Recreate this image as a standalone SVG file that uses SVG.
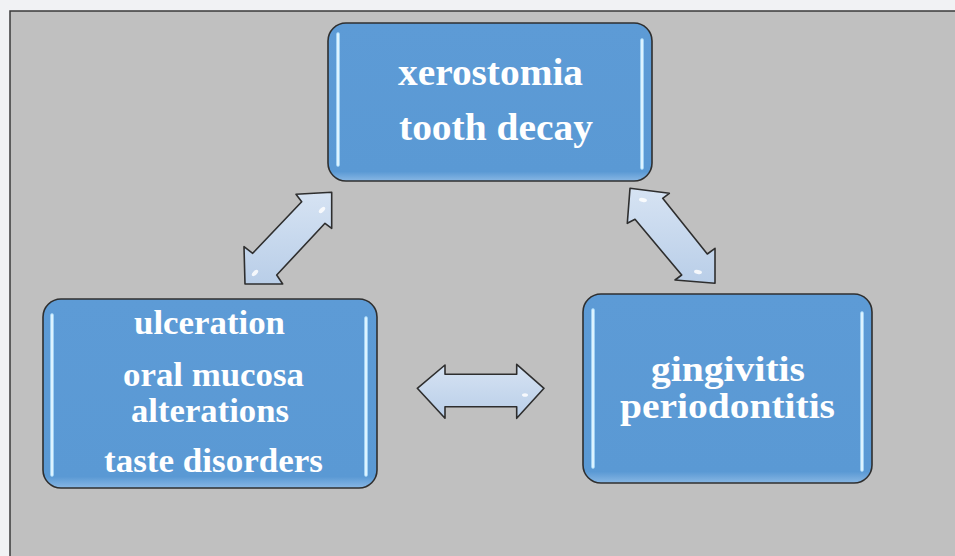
<svg xmlns="http://www.w3.org/2000/svg" width="955" height="556" viewBox="0 0 955 556">
<defs>
<linearGradient id="boxFill" x1="0" y1="0" x2="0" y2="1">
<stop offset="0" stop-color="#5d9bd6"/>
<stop offset="0.94" stop-color="#5a99d4"/>
<stop offset="1" stop-color="#88b7e4"/>
</linearGradient>
<linearGradient id="arrowFill" x1="0" y1="0" x2="0" y2="1">
<stop offset="0" stop-color="#d6e3f3"/>
<stop offset="1" stop-color="#b9cee8"/>
</linearGradient>
<style>
.box{fill:url(#boxFill);stroke:#2f2f2f;stroke-width:1.6}
.hl{stroke:#bfe8ff;stroke-width:3.4;stroke-linecap:round;fill:none}
.hlc{stroke:#ffffff;stroke-width:1.2;stroke-linecap:round;fill:none;opacity:0.8}
.arrow{fill:url(#arrowFill);stroke:#2e2e2e;stroke-width:1.6;stroke-linejoin:round}
.gloss{fill:#ffffff;opacity:0.85}
.t{font-family:"Liberation Serif","Times New Roman",serif;font-weight:bold;fill:#ffffff}
</style>
</defs>
<rect x="0" y="0" width="955" height="556" fill="#f1f2f4"/>
<rect x="10" y="11" width="960" height="560" fill="#c0c0c0" stroke="#3a3a3a" stroke-width="1.5"/>

<g id="connectors">
<polygon class="arrow" points="331.7,192.3 296,194.3 301.7,201.7 252.7,253.3 244,246.7 245,284 282.7,284 276.7,275 325,223.3 331.7,228.3"/>
<polygon class="arrow" points="630,188.3 669.3,193.3 662.7,198.3 707.3,254 715,248.3 715,283.3 675,280 681.7,275 635,219.3 627.3,223.3"/>
<polygon class="arrow" points="417.3,388.3 445,365 445,374.3 516.7,374.3 516.7,364.3 544,388.3 516.7,418.3 516.7,406.7 445,406.7 445,418.3"/>
<ellipse class="gloss" cx="322" cy="210" rx="2" ry="4" transform="rotate(45 322 210)"/>
<ellipse class="gloss" cx="255" cy="273" rx="2" ry="4" transform="rotate(45 255 273)"/>
<ellipse class="gloss" cx="643" cy="200" rx="4" ry="2" transform="rotate(10 643 200)"/>
<ellipse class="gloss" cx="698" cy="272" rx="4" ry="2" transform="rotate(10 698 272)"/>
<ellipse class="gloss" cx="525" cy="395" rx="3" ry="1.8"/>
</g>

<g id="node-top">
<rect class="box" x="328" y="23" width="324" height="158" rx="18" ry="18"/>
<line class="hl" x1="338" y1="34" x2="338" y2="165"/>
<line class="hlc" x1="338" y1="34" x2="338" y2="165"/>
<line class="hl" x1="642" y1="40" x2="642" y2="168"/>
<line class="hlc" x1="642" y1="40" x2="642" y2="168"/>
<text class="t" x="398" y="85" font-size="37" textLength="185" lengthAdjust="spacingAndGlyphs">xerostomia</text>
<text class="t" x="399" y="140" font-size="37" textLength="194" lengthAdjust="spacingAndGlyphs">tooth decay</text>
</g>

<g id="node-left">
<rect class="box" x="43" y="299" width="334" height="189" rx="18" ry="18"/>
<line class="hl" x1="52" y1="315" x2="52" y2="475"/>
<line class="hlc" x1="52" y1="315" x2="52" y2="475"/>
<line class="hl" x1="366" y1="318" x2="366" y2="475"/>
<line class="hlc" x1="366" y1="318" x2="366" y2="475"/>
<text class="t" x="134" y="334" font-size="34" textLength="151" lengthAdjust="spacingAndGlyphs">ulceration</text>
<text class="t" x="123" y="386" font-size="34" textLength="181" lengthAdjust="spacingAndGlyphs">oral mucosa</text>
<text class="t" x="131" y="422" font-size="34" textLength="158" lengthAdjust="spacingAndGlyphs">alterations</text>
<text class="t" x="104" y="472" font-size="34" textLength="219" lengthAdjust="spacingAndGlyphs">taste disorders</text>
</g>

<g id="node-right">
<rect class="box" x="583" y="294" width="289" height="189" rx="18" ry="18"/>
<line class="hl" x1="593" y1="310" x2="593" y2="467"/>
<line class="hlc" x1="593" y1="310" x2="593" y2="467"/>
<line class="hl" x1="862" y1="313" x2="862" y2="470"/>
<line class="hlc" x1="862" y1="313" x2="862" y2="470"/>
<text class="t" x="651" y="381" font-size="35" textLength="154" lengthAdjust="spacingAndGlyphs">gingivitis</text>
<text class="t" x="620" y="418" font-size="35" textLength="215" lengthAdjust="spacingAndGlyphs">periodontitis</text>
</g>
</svg>
